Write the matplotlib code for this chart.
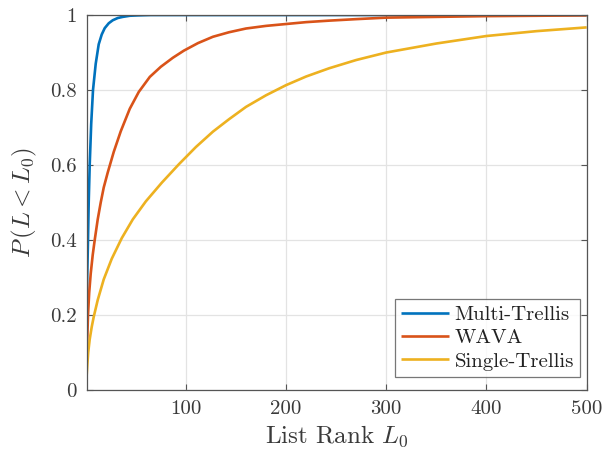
import matplotlib
matplotlib.use("Agg")
import matplotlib.pyplot as plt

plt.rcParams["font.family"] = "cmr10"
plt.rcParams["mathtext.fontset"] = "cm"
plt.rcParams["axes.formatter.use_mathtext"] = True

# list rank and cumulative probability for each decoder
rank_multi = [1, 1.5, 2.3, 3, 4, 5.5, 7.3, 10, 13, 16, 19, 23, 27, 32, 37, 44, 52, 65, 100, 200, 300, 400, 500]
prob_multi = [0.2, 0.3, 0.4, 0.5, 0.6, 0.71, 0.8, 0.87, 0.922, 0.948, 0.965, 0.978, 0.986, 0.992, 0.995, 0.998, 0.999, 1.0, 1.0, 1.0, 1.0, 1.0, 1.0]

rank_wava = [1, 1.5, 2.3, 3.5, 5, 7, 9, 12, 15, 18, 22, 28, 35, 44, 53, 64, 75, 87, 98, 112, 127, 143, 160, 180, 200, 220, 243, 270, 300, 350, 400, 450, 500]
prob_wava = [0.07, 0.13, 0.2, 0.26, 0.31, 0.36, 0.4, 0.455, 0.5, 0.54, 0.58, 0.635, 0.69, 0.75, 0.795, 0.835, 0.862, 0.886, 0.905, 0.925, 0.942, 0.954, 0.964, 0.971, 0.976, 0.981, 0.985, 0.989, 0.993, 0.995, 0.997, 0.998, 0.999]

rank_single = [1, 1.7, 2.5, 4, 6, 8, 12, 18, 26, 36, 47, 60, 76, 93, 110, 127, 143, 160, 180, 200, 220, 243, 270, 300, 350, 400, 450, 500]
prob_single = [0.04, 0.07, 0.1, 0.135, 0.168, 0.195, 0.24, 0.295, 0.35, 0.405, 0.455, 0.503, 0.553, 0.602, 0.648, 0.689, 0.722, 0.755, 0.786, 0.813, 0.836, 0.858, 0.88, 0.9, 0.924, 0.944, 0.957, 0.967]

labels = ["Multi-Trellis", "WAVA", "Single-Trellis"]
colors = ["#0072BD", "#D95319", "#EDB120"]

x_ticks = [100, 200, 300, 400, 500]
y_ticks = [0, 0.2, 0.4, 0.6, 0.8, 1]
y_tick_labels = ["0", "0.2", "0.4", "0.6", "0.8", "1"]

text_color = "#3a3a3a"

fig = plt.figure(figsize=(6.05, 4.59), dpi=100)
ax = fig.add_axes([0.1433, 0.1503, 0.8264, 0.817])

for xs, ys, lab, c in zip([rank_multi, rank_wava, rank_single],
                          [prob_multi, prob_wava, prob_single], labels, colors):
    ax.plot(xs, ys, color=c, lw=1.9, label=lab, solid_capstyle="butt")

ax.set_xlim(1, 500)
ax.set_ylim(0, 1)
ax.set_xticks(x_ticks)
ax.set_xticklabels([str(t) for t in x_ticks])
ax.set_yticks(y_ticks)
ax.set_yticklabels(y_tick_labels)

ax.grid(True, color="#e3e3e3", lw=0.9)
ax.set_axisbelow(True)
ax.tick_params(direction="in", length=4, width=0.8, colors="#555555",
               labelcolor=text_color, labelsize=15, top=True, right=True, pad=7)
for s in ax.spines.values():
    s.set_color("#555555")
    s.set_linewidth(0.9)

ax.set_xlabel("List Rank $L_0$", fontsize=18, color=text_color, labelpad=4)
ax.set_ylabel("$P\\,(L < L_0)$", fontsize=18, color=text_color, labelpad=8)

leg = ax.legend(loc="lower right", bbox_to_anchor=(0.987, 0.035), fontsize=15,
                frameon=True, fancybox=False, handlelength=2.3, handletextpad=0.25,
                labelspacing=0.22, borderpad=0.3, borderaxespad=0)
leg.get_frame().set_edgecolor("#555555")
leg.get_frame().set_linewidth(0.9)
for t in leg.get_texts():
    t.set_color("#222222")

fig.savefig("out.png", dpi=100, facecolor="white")
